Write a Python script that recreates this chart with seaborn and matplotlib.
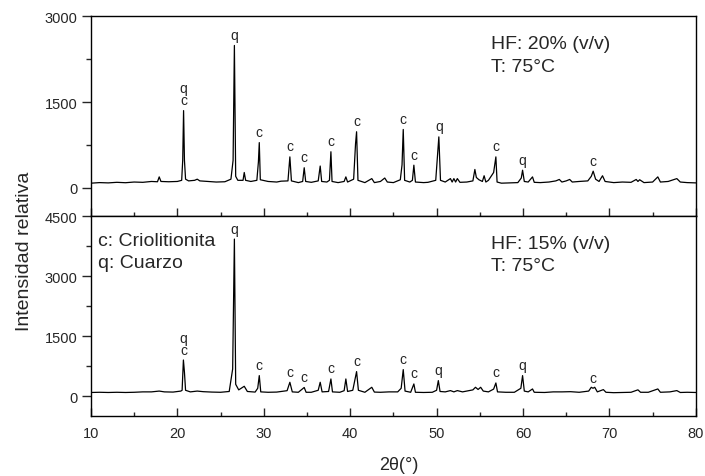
import numpy as np
import seaborn as sns
import matplotlib
matplotlib.use("Agg")
import matplotlib.pyplot as plt
from matplotlib.ticker import MultipleLocator

# XRD traces: 2theta (deg) and relative intensity
two_theta_top = [
    10.0, 11.0, 12.0, 13.0, 14.0, 15.0, 16.0, 17.0, 17.7, 17.9, 18.1, 19.0, 20.0, 20.5,
    20.62, 20.72, 20.82, 20.95, 21.3, 22.0, 22.3, 22.6, 23.5, 24.5, 25.5, 26.2, 26.45,
    26.6, 26.75, 27.0, 27.6, 27.74, 27.9, 28.5, 29.2, 29.38, 29.48, 29.6, 30.5, 31.5,
    32.0, 32.8, 33.02, 33.2, 34.0, 34.5, 34.68, 34.85, 35.5, 36.3, 36.53, 36.7, 37.3,
    37.6, 37.77, 37.9, 38.6, 39.3, 39.5, 39.7, 40.4, 40.62, 40.74, 40.9, 41.7, 42.5,
    42.8, 43.5, 44.0, 44.3, 45.0, 45.8, 46.0, 46.14, 46.3, 46.9, 47.2, 47.37, 47.55,
    48.5, 49.0, 49.9, 50.26, 50.45, 51.0, 51.6, 51.8, 52.0, 52.2, 52.4, 52.7, 53.5,
    54.2, 54.43, 54.6, 54.9, 55.3, 55.5, 55.7, 56.0, 56.6, 56.86, 57.0, 57.5, 58.5,
    59.4, 59.8, 59.95, 60.15, 60.6, 61.1, 61.3, 62.0, 63.0, 63.8, 64.2, 64.5, 65.0,
    65.4, 65.7, 66.5, 67.5, 67.9, 68.12, 68.4, 68.8, 69.2, 69.5, 70.5, 71.5, 72.5,
    73.1, 73.3, 73.5, 74.0, 75.0, 75.6, 75.9, 76.8, 77.8, 78.2, 79.0, 80.0,
]
counts_top = [
    80, 90, 85, 95, 88, 100, 95, 110, 105, 190, 110, 105, 110, 130,
    480, 1350, 480, 150, 120, 130, 150, 120, 110, 100, 105, 150, 480,
    2490, 200, 130, 130, 267, 130, 110, 130, 453, 790, 140, 110, 100,
    115, 120, 540, 120, 90, 110, 350, 110, 95, 120, 380, 110, 100,
    130, 630, 110, 90, 110, 190, 100, 150, 770, 980, 130, 90, 160,
    90, 110, 170, 100, 90, 140, 400, 1020, 130, 100, 130, 395, 100,
    90, 95, 130, 890, 130, 100, 160, 100, 160, 100, 160, 95, 100,
    120, 320, 180, 140, 110, 210, 100, 130, 267, 540, 100, 80, 85,
    90, 170, 307, 110, 100, 190, 95, 90, 100, 120, 145, 100, 120,
    145, 100, 110, 120, 200, 290, 150, 110, 210, 110, 90, 100, 95,
    145, 110, 140, 90, 100, 190, 100, 110, 160, 100, 90, 85,
]

two_theta_bot = [
    10.0, 11.0, 12.0, 13.0, 14.0, 15.0, 16.0, 17.0, 17.9, 18.5, 19.5, 20.4, 20.55,
    20.7, 20.82, 20.95, 21.5, 22.3, 23.0, 24.0, 25.0, 26.0, 26.4, 26.6, 26.75, 27.1,
    27.74, 28.1, 29.0, 29.3, 29.48, 29.65, 30.5, 31.5, 32.7, 33.02, 33.3, 34.0, 34.68,
    34.9, 35.5, 36.3, 36.53, 36.75, 37.5, 37.77, 37.95, 38.8, 39.3, 39.5, 39.7, 40.3,
    40.74, 40.95, 41.7, 42.5, 42.8, 43.5, 44.5, 45.5, 45.9, 46.14, 46.35, 47.0, 47.37,
    47.55, 48.5, 49.5, 50.0, 50.2, 50.4, 51.0, 51.6, 52.0, 52.4, 53.0, 54.2, 54.5,
    54.8, 55.1, 55.4, 56.0, 56.6, 56.86, 57.05, 58.0, 59.0, 59.75, 59.95, 60.15, 60.6,
    61.1, 61.3, 62.5, 63.5, 64.5, 65.5, 66.5, 67.6, 67.9, 68.1, 68.3, 68.6, 69.3,
    69.6, 70.5, 71.5, 72.5, 73.3, 73.6, 74.5, 75.6, 75.9, 77.0, 77.8, 78.2, 79.0, 80.0,
]
counts_bot = [
    95, 100, 95, 100, 95, 100, 110, 110, 130, 110, 105, 130, 150,
    907, 600, 150, 110, 130, 115, 105, 100, 120, 683, 3930, 300, 160,
    250, 120, 105, 200, 517, 110, 100, 105, 140, 350, 110, 100, 220,
    100, 100, 150, 350, 110, 120, 433, 110, 100, 140, 433, 120, 150,
    617, 150, 100, 225, 105, 100, 110, 110, 200, 667, 130, 100, 308,
    100, 95, 100, 150, 392, 120, 110, 142, 110, 142, 110, 160, 225,
    170, 225, 130, 110, 180, 333, 110, 100, 100, 200, 517, 130, 110,
    183, 100, 95, 110, 110, 115, 100, 130, 225, 200, 225, 110, 167,
    100, 90, 95, 100, 161, 100, 100, 183, 100, 110, 142, 95, 100, 95,
]

# peak identification (c: criolitionita, q: cuarzo)
label_pos_top = [20.72, 26.6, 29.48, 33.02, 34.68, 37.77, 40.74, 46.14, 47.37, 50.26, 56.86, 59.95, 68.12]
label_pos_bot = [20.7, 26.6, 29.48, 33.02, 34.68, 37.77, 40.74, 46.14, 47.37, 50.2, 56.86, 59.95, 68.1]
label_txt = ["q\nc", "q", "c", "c", "c", "c", "c", "c", "c", "q", "c", "q", "c"]

conditions = ["HF: 20% (v/v)\nT: 75°C", "HF: 15% (v/v)\nT: 75°C"]
legend_txt = "c: Criolitionita\nq: Cuarzo"

sns.set_style("ticks")
plt.rcParams["font.family"] = ["Liberation Sans", "DejaVu Sans"]
plt.rcParams["axes.linewidth"] = 1.0

fig = plt.figure(figsize=(7.05, 4.77), dpi=100)
ax_top = fig.add_axes([0.129, 0.5444, 0.858, 0.4193])
ax_bot = fig.add_axes([0.129, 0.1252, 0.858, 0.4193])

panels = [
    (ax_top, two_theta_top, counts_top, label_pos_top, (-500, 3000), [0, 1500, 3000]),
    (ax_bot, two_theta_bot, counts_bot, label_pos_bot, (-500, 4500), [0, 1500, 3000, 4500]),
]

for i, (ax, tt, cc, lpos, ylim, yt) in enumerate(panels):
    sns.lineplot(x=tt, y=cc, ax=ax, color="black", lw=0.9, sort=False, estimator=None)
    lookup = dict(zip(tt, cc))
    for p, t in zip(lpos, label_txt):
        ax.annotate(t, (p, lookup[p]), xytext=(0, 2.5), textcoords="offset points",
                    ha="center", va="bottom", fontsize=10, linespacing=0.8)
    ax.set_xlim(10, 80)
    ax.set_ylim(*ylim)
    ax.set_yticks(yt)
    ax.yaxis.set_minor_locator(MultipleLocator(750))
    ax.xaxis.set_major_locator(MultipleLocator(10))
    ax.xaxis.set_minor_locator(MultipleLocator(5))
    ax.tick_params(axis="y", which="major", direction="out", length=6.5, width=1, labelsize=10.5, pad=3)
    ax.tick_params(axis="y", which="minor", direction="out", length=3.5, width=1)
    ax.tick_params(axis="x", which="major", direction="in", length=6, width=1, labelsize=10.5, pad=7)
    ax.tick_params(axis="x", which="minor", direction="in", length=3, width=1)
    for s in ax.spines.values():
        s.set_visible(True)
        s.set_color("black")
    ax.text(0.661, 0.905, conditions[i], transform=ax.transAxes, fontsize=14,
            va="top", ha="left", linespacing=1.4)
    ax.set_xlabel("")
    ax.set_ylabel("")

ax_top.tick_params(axis="x", labelbottom=False)
ax_bot.text(0.012, 0.92, legend_txt, transform=ax_bot.transAxes, fontsize=14,
            va="top", ha="left", linespacing=1.35)

fig.text(0.035, 0.474, "Intensidad relativa", rotation=90, ha="center", va="center", fontsize=14)
fig.text(0.565, 0.025, "2θ(°)", ha="center", va="center", fontsize=13)

fig.savefig("out.png", dpi=100)
